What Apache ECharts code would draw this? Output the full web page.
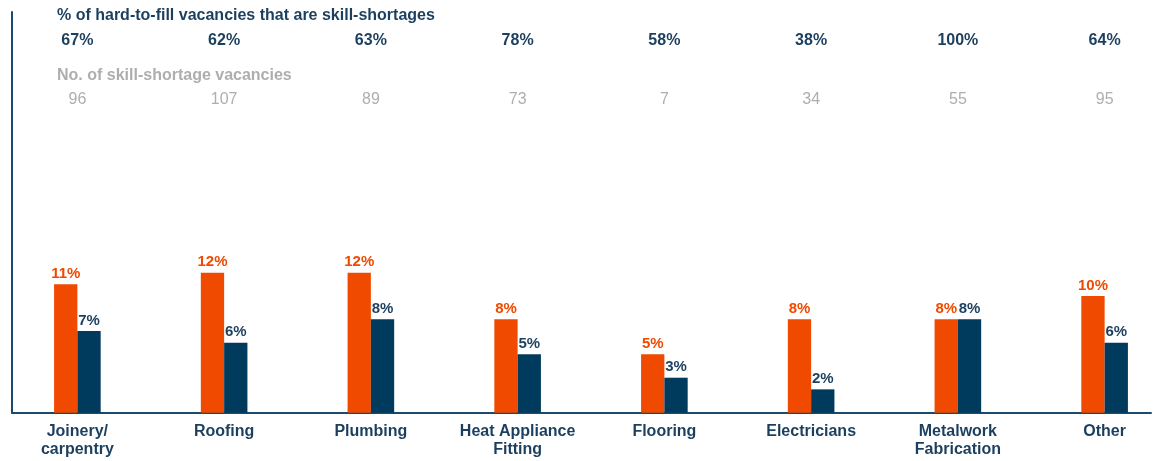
<!DOCTYPE html>
<html>
<head>
<meta charset="utf-8">
<script src="https://cdn.jsdelivr.net/npm/echarts@6/dist/echarts.min.js"></script>
<style>
  html, body { margin: 0; padding: 0; background: #ffffff; }
  #chart { width: 1153px; height: 461px; }
</style>
</head>
<body>
<div id="chart"></div>
<script>
// Occupations shown along the bottom axis
const categories = ['Joinery/\ncarpentry', 'Roofing', 'Plumbing', 'Heat Appliance\nFitting', 'Flooring', 'Electricians', 'Metalwork\nFabrication', 'Other'];
// Bar values (%)
const primaryShare = [11, 12, 12, 8, 5, 8, 8, 10];
const comparisonShare = [7, 6, 8, 5, 3, 2, 8, 6];
// Header rows above the bars
const hardToFillSkillPct = [67, 62, 63, 78, 58, 38, 100, 64];
const skillShortageCount = [96, 107, 89, 73, 7, 34, 55, 95];
const headerTitles = ['% of hard-to-fill vacancies that are skill-shortages', 'No. of skill-shortage vacancies'];

const FONT = '"Liberation Sans", Arial, sans-serif';
const ORANGE = '#EF4A00';
const NAVY = '#003B5E';
const TEXT_NAVY = '#1B3F5E';
const LINE_NAVY = '#1C4A6E';
const GREY = '#AEAEAE';

const gridTop = 62.7;
const gridBottom = 48.3;

const chart = echarts.init(document.getElementById('chart'), null, { renderer: 'canvas' });

const barLabel = (color) => ({
  show: true,
  position: 'top',
  distance: 3,
  formatter: '{c}%',
  color: color,
  fontFamily: FONT,
  fontWeight: 'bold',
  fontSize: 15
});

chart.setOption({
  animation: false,
  backgroundColor: '#ffffff',
  title: [
    {
      text: headerTitles[0], left: 57, top: 7, padding: 0,
      textStyle: { color: TEXT_NAVY, fontFamily: FONT, fontWeight: 'bold', fontSize: 16, lineHeight: 18 }
    },
    {
      text: headerTitles[1], left: 57, top: 67, padding: 0,
      textStyle: { color: GREY, fontFamily: FONT, fontWeight: 'bold', fontSize: 16, lineHeight: 18 }
    }
  ],
  grid: [
    // plotting grid for the bars (wider than the frame so the bands line up)
    { left: 4, right: -25, top: gridTop, bottom: gridBottom, containLabel: false, outerBoundsMode: 'none' },
    // L-shaped frame
    { left: 12, top: 12, right: 2, bottom: gridBottom, containLabel: false, outerBoundsMode: 'none' }
  ],
  xAxis: [
    {
      type: 'category', gridIndex: 0, data: categories, position: 'bottom',
      axisLine: { show: false }, axisTick: { show: false }, splitLine: { show: false },
      axisLabel: {
        interval: 0, margin: 10, color: TEXT_NAVY, fontFamily: FONT,
        fontWeight: 'bold', fontSize: 16, lineHeight: 18
      }
    },
    {
      type: 'category', gridIndex: 0, data: hardToFillSkillPct, position: 'top',
      offset: gridTop - 41,
      axisLine: { show: false }, axisTick: { show: false }, splitLine: { show: false },
      axisLabel: {
        interval: 0, margin: 0, verticalAlign: 'middle', formatter: '{value}%',
        color: TEXT_NAVY, fontFamily: FONT, fontWeight: 'bold', fontSize: 16
      }
    },
    {
      type: 'category', gridIndex: 0, data: skillShortageCount, position: 'top',
      offset: gridTop - 100,
      axisLine: { show: false }, axisTick: { show: false }, splitLine: { show: false },
      axisLabel: {
        interval: 0, margin: 0, verticalAlign: 'middle',
        color: GREY, fontFamily: FONT, fontSize: 16
      }
    },
    {
      type: 'value', gridIndex: 1, min: 0, max: 1, position: 'bottom',
      axisLine: { show: true, onZero: false, lineStyle: { color: LINE_NAVY, width: 2 } },
      axisTick: { show: false }, axisLabel: { show: false }, splitLine: { show: false }
    }
  ],
  yAxis: [
    {
      type: 'value', gridIndex: 0, min: 0, max: 30,
      show: false, splitLine: { show: false }
    },
    {
      type: 'value', gridIndex: 1, min: 0, max: 1, position: 'left',
      axisLine: { show: true, onZero: false, lineStyle: { color: LINE_NAVY, width: 2 } },
      axisTick: { show: false }, axisLabel: { show: false }, splitLine: { show: false }
    }
  ],
  series: [
    {
      name: 'primaryShare', type: 'bar', xAxisIndex: 0, yAxisIndex: 0,
      data: primaryShare, barWidth: 23.3, barGap: '0%',
      itemStyle: { color: ORANGE },
      label: barLabel(ORANGE)
    },
    {
      name: 'comparisonShare', type: 'bar', xAxisIndex: 0, yAxisIndex: 0,
      data: comparisonShare, barWidth: 23.3, barGap: '0%',
      itemStyle: { color: NAVY },
      label: barLabel(TEXT_NAVY)
    }
  ]
});
</script>
</body>
</html>
